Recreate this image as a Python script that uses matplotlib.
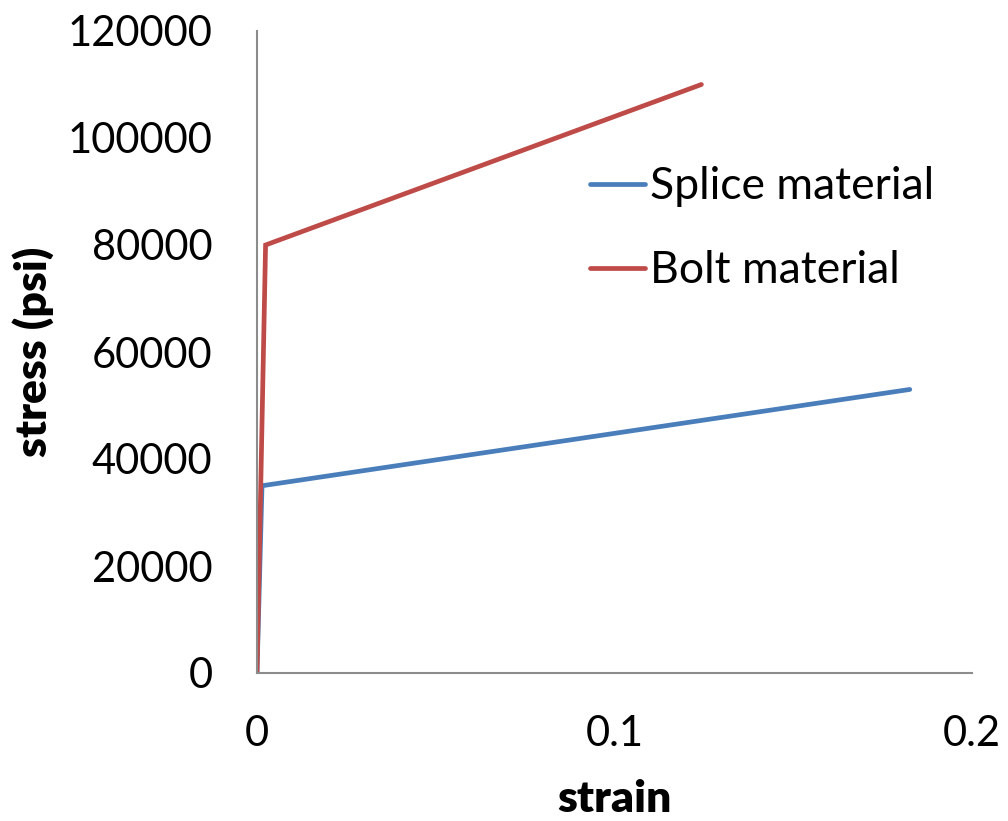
import matplotlib
matplotlib.use("Agg")
import matplotlib.pyplot as plt

# stress-strain points
splice_strain = [0.0, 0.0014, 0.1826]
splice_stress = [0, 35000, 53000]
bolt_strain = [0.0, 0.0024, 0.1243]
bolt_stress = [0, 80000, 110000]

x_ticks = [0, 0.1, 0.2]
x_tick_labels = ["0", "0.1", "0.2"]
y_ticks = [0, 20000, 40000, 60000, 80000, 100000, 120000]

plt.rcParams['font.family'] = ['Lato', 'DejaVu Sans']

fig = plt.figure(figsize=(10.08, 8.21), dpi=100)
ax = fig.add_axes([257 / 1008, 1 - 673 / 821, (972 - 257) / 1008, (673 - 31) / 821])

ax.plot(splice_strain, splice_stress, color="#4A7EBB", lw=3.4, label="Splice material",
        solid_capstyle="round", solid_joinstyle="miter")
ax.plot(bolt_strain, bolt_stress, color="#BE4B48", lw=3.4, label="Bolt material",
        solid_capstyle="round", solid_joinstyle="miter")

ax.set_xlim(0, 0.2)
ax.set_ylim(0, 120000)
ax.set_xticks(x_ticks)
ax.set_xticklabels(x_tick_labels)
ax.set_yticks(y_ticks)
ax.set_yticklabels([str(v) for v in y_ticks])
ax.tick_params(length=0, labelsize=30)
ax.tick_params(axis='y', pad=32)
ax.tick_params(axis='x', pad=30)

for side in ("top", "right"):
    ax.spines[side].set_visible(False)
for side in ("left", "bottom"):
    ax.spines[side].set_color("#8C8C8C")
    ax.spines[side].set_linewidth(1.5)

ax.set_xlabel("strain", fontsize=32, fontweight="heavy", labelpad=19)
ax.set_ylabel("stress (psi)", fontsize=32, fontweight="heavy", labelpad=10)

ax.legend(loc="center left", bbox_to_anchor=(0.466, 0.692), frameon=False,
          fontsize=32, handlelength=1.24, handletextpad=0.11, labelspacing=0.96,
          borderpad=0, borderaxespad=0)

fig.savefig("out.png", dpi=100)
